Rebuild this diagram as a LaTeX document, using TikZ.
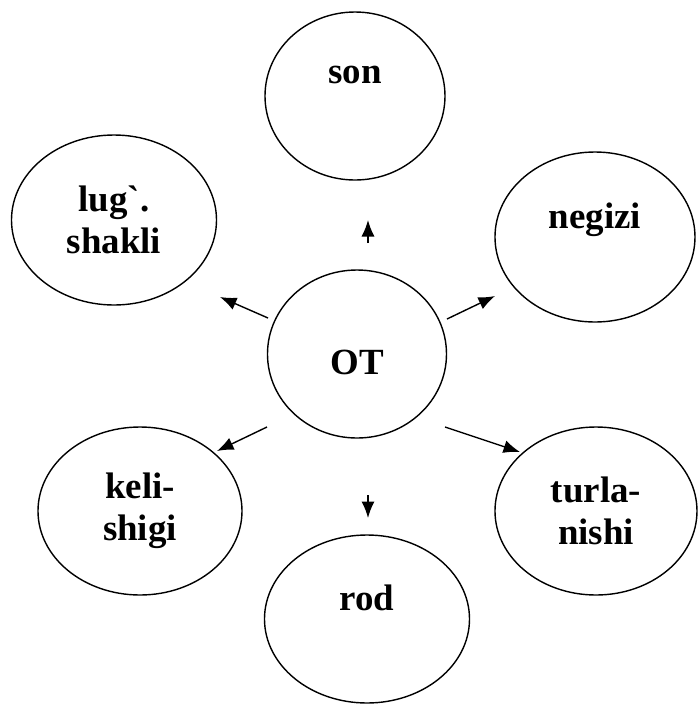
\documentclass[tikz,border=0pt]{standalone}
\usepackage{fontspec}
\setmainfont{Liberation Serif}[Ligatures=TeXOff]
\usetikzlibrary{shapes.geometric,arrows.meta}

\tikzset{
  oval/.style={draw,ellipse,line width=0.8pt,inner sep=0pt,align=center,
    font=\fontsize{21}{24}\selectfont\bfseries},
  arr/.style={line width=0.8pt,-{Latex[length=3.3mm,width=2.6mm]}}
}

\begin{document}
\begin{tikzpicture}
\useasboundingbox (0,0) rectangle (13.96,-14.10);
\node[oval,minimum width=3.6cm,minimum height=3.36cm] (son) at (7.10,-1.92) {son\\\mbox{}};
\node[oval,minimum width=4.1cm,minimum height=3.4cm] (lug) at (2.28,-4.40) {lug`.\\shakli};
\node[oval,minimum width=4.0cm,minimum height=3.4cm] (negizi) at (11.90,-4.74) {negizi\\\mbox{}};
\node[oval,minimum width=3.58cm,minimum height=3.36cm] (ot) at (7.14,-7.08) {\mbox{}\\OT};
\node[oval,minimum width=4.08cm,minimum height=3.36cm] (keli) at (2.80,-10.22) {keli-\\shigi};
\node[oval,minimum width=4.04cm,minimum height=3.36cm] (turla) at (11.92,-10.22) {turla-\\nishi};
\node[oval,minimum width=4.1cm,minimum height=3.36cm] (rod) at (7.34,-12.38) {rod\\\mbox{}};
% arrows out of OT
\coordinate (up1) at (7.36,-4.86);
\coordinate (up2) at (7.36,-4.40);
\coordinate (ul1) at (5.36,-6.36);
\coordinate (ul2) at (4.40,-5.94);
\coordinate (ur1) at (8.94,-6.38);
\coordinate (ur2) at (9.90,-5.92);
\coordinate (ll1) at (5.34,-8.54);
\coordinate (ll2) at (4.34,-9.02);
\coordinate (lr1) at (8.90,-8.54);
\coordinate (lr2) at (10.40,-9.04);
\coordinate (dn1) at (7.36,-9.90);
\coordinate (dn2) at (7.36,-10.36);
\draw[arr] (up1) -- (up2);
\draw[arr] (ul1) -- (ul2);
\draw[arr] (ur1) -- (ur2);
\draw[arr] (ll1) -- (ll2);
\draw[arr] (lr1) -- (lr2);
\draw[arr] (dn1) -- (dn2);
\end{tikzpicture}
\end{document}
